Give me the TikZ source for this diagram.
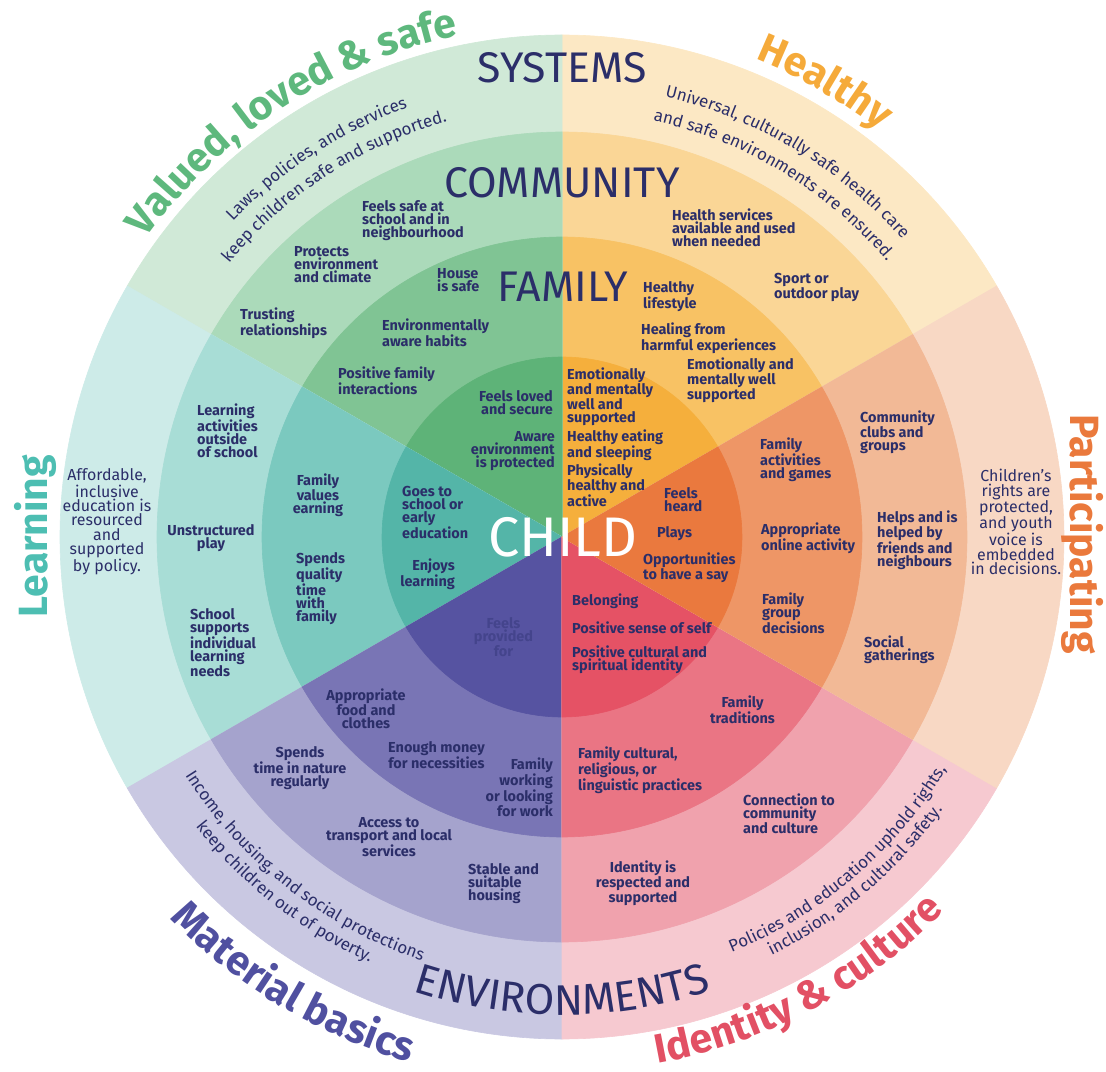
\documentclass[tikz,border=0pt]{standalone}
\usepackage{fontspec}
\setmainfont{Fira Sans}
\usepackage{tikz}
\usetikzlibrary{decorations.text}

\definecolor{navy}{RGB}{43,46,105}
\definecolor{faded}{RGB}{68,68,140}
% ring colours, one set per sector
\definecolor{gSys}{RGB}{208,233,215}
\definecolor{gCom}{RGB}{171,218,186}
\definecolor{gFam}{RGB}{128,196,148}
\definecolor{gChi}{RGB}{94,179,120}
\definecolor{ySys}{RGB}{252,232,196}
\definecolor{yCom}{RGB}{250,214,150}
\definecolor{yFam}{RGB}{248,194,100}
\definecolor{yChi}{RGB}{245,175,60}
\definecolor{oSys}{RGB}{248,216,196}
\definecolor{oCom}{RGB}{242,185,150}
\definecolor{oFam}{RGB}{238,150,102}
\definecolor{oChi}{RGB}{234,121,62}
\definecolor{rSys}{RGB}{246,201,208}
\definecolor{rCom}{RGB}{240,162,173}
\definecolor{rFam}{RGB}{234,117,132}
\definecolor{rChi}{RGB}{229,82,101}
\definecolor{pSys}{RGB}{201,200,226}
\definecolor{pCom}{RGB}{165,163,205}
\definecolor{pFam}{RGB}{121,117,181}
\definecolor{pChi}{RGB}{86,83,161}
\definecolor{tSys}{RGB}{205,235,232}
\definecolor{tCom}{RGB}{168,221,214}
\definecolor{tFam}{RGB}{123,201,191}
\definecolor{tChi}{RGB}{84,181,168}
% outer labels
\definecolor{gLbl}{RGB}{94,184,125}
\definecolor{yLbl}{RGB}{245,170,58}
\definecolor{oLbl}{RGB}{234,121,60}
\definecolor{rLbl}{RGB}{226,80,100}
\definecolor{pLbl}{RGB}{80,80,160}
\definecolor{tLbl}{RGB}{77,190,178}

\newcommand{\factfont}{\bfseries\fontsize{14.5}{13}\selectfont}
\newcommand{\sidefont}{\fontsize{16}{14.5}\selectfont}
\newcommand{\arcfont}{\fontsize{17}{17}\selectfont}
\newcommand{\ringfont}{\fontsize{43}{43}\selectfont}
\newcommand{\childfont}{\fontsize{56}{56}\selectfont}
\newcommand{\lblfont}{\bfseries\fontsize{41}{41}\selectfont}

\begin{document}
\begin{tikzpicture}[line join=bevel,
  wedge/.style={fill=#1,draw=#1,line width=.6bp},
  fact/.style={font=\factfont,text=navy,inner sep=0pt},
  factL/.style={fact,align=left,anchor=west},
  factR/.style={fact,align=right,anchor=east},
  factC/.style={fact,align=center},
  side/.style={font=\sidefont,text=navy,inner sep=0pt,align=center},
  ring/.style={font=\ringfont,text=navy,inner sep=0pt},
  outer/.style={font=\lblfont,inner sep=0pt},
]
\useasboundingbox (-562bp,-535bp) rectangle (544bp,537bp);
%% sectors, outside in
\path[wedge=ySys] (0,0) -- (30:502bp) arc[start angle=30,end angle=90,radius=502bp] -- cycle;
\path[wedge=yCom] (0,0) -- (30:405bp) arc[start angle=30,end angle=90,radius=405bp] -- cycle;
\path[wedge=yFam] (0,0) -- (30:300bp) arc[start angle=30,end angle=90,radius=300bp] -- cycle;
\path[wedge=yChi] (0,0) -- (30:180bp) arc[start angle=30,end angle=90,radius=180bp] -- cycle;
\path[wedge=gSys] (0,0) -- (90:502bp) arc[start angle=90,end angle=150,radius=502bp] -- cycle;
\path[wedge=gCom] (0,0) -- (90:405bp) arc[start angle=90,end angle=150,radius=405bp] -- cycle;
\path[wedge=gFam] (0,0) -- (90:300bp) arc[start angle=90,end angle=150,radius=300bp] -- cycle;
\path[wedge=gChi] (0,0) -- (90:180bp) arc[start angle=90,end angle=150,radius=180bp] -- cycle;
\path[wedge=tSys] (0,0) -- (150:502bp) arc[start angle=150,end angle=210,radius=502bp] -- cycle;
\path[wedge=tCom] (0,0) -- (150:405bp) arc[start angle=150,end angle=210,radius=405bp] -- cycle;
\path[wedge=tFam] (0,0) -- (150:300bp) arc[start angle=150,end angle=210,radius=300bp] -- cycle;
\path[wedge=tChi] (0,0) -- (150:180bp) arc[start angle=150,end angle=210,radius=180bp] -- cycle;
\path[wedge=pSys] (0,0) -- (210:502bp) arc[start angle=210,end angle=270,radius=502bp] -- cycle;
\path[wedge=pCom] (0,0) -- (210:405bp) arc[start angle=210,end angle=270,radius=405bp] -- cycle;
\path[wedge=pFam] (0,0) -- (210:300bp) arc[start angle=210,end angle=270,radius=300bp] -- cycle;
\path[wedge=pChi] (0,0) -- (210:180bp) arc[start angle=210,end angle=270,radius=180bp] -- cycle;
\path[wedge=rSys] (0,0) -- (270:502bp) arc[start angle=270,end angle=330,radius=502bp] -- cycle;
\path[wedge=rCom] (0,0) -- (270:405bp) arc[start angle=270,end angle=330,radius=405bp] -- cycle;
\path[wedge=rFam] (0,0) -- (270:300bp) arc[start angle=270,end angle=330,radius=300bp] -- cycle;
\path[wedge=rChi] (0,0) -- (270:180bp) arc[start angle=270,end angle=330,radius=180bp] -- cycle;
\path[wedge=oSys] (0,0) -- (-30:502bp) arc[start angle=-30,end angle=30,radius=502bp] -- cycle;
\path[wedge=oCom] (0,0) -- (-30:405bp) arc[start angle=-30,end angle=30,radius=405bp] -- cycle;
\path[wedge=oFam] (0,0) -- (-30:300bp) arc[start angle=-30,end angle=30,radius=300bp] -- cycle;
\path[wedge=oChi] (0,0) -- (-30:180bp) arc[start angle=-30,end angle=30,radius=180bp] -- cycle;
%% ring titles
\node (systems) at (0bp,469bp) [ring] {SYSTEMS};
\node (community) at (0bp,354bp) [ring] {COMMUNITY};
\node (family) at (1bp,250bp) [ring] {FAMILY};
\node (child) at (1bp,0bp) [ring,font=\childfont,text=white] {CHILD};
\path[decorate,decoration={text along path,text align=center,
  text={|\ringfont\color{navy}|ENVIRONMENTS}}]
  (235:478bp) arc[start angle=235,end angle=305,radius=478bp];
%% outer labels
\path[decorate,decoration={text along path,text align=center,
  text={|\lblfont\color{gLbl}|Valued, loved {\&} safe}}]
  (158:512bp) arc[start angle=158,end angle=88,radius=512bp];
\path[decorate,decoration={text along path,text align=center,
  text={|\lblfont\color{yLbl}|Healthy}}]
  (95:516bp) arc[start angle=95,end angle=25,radius=516bp];
\path[decorate,decoration={text along path,text align=center,
  text={|\lblfont\color{pLbl}|Material basics}}]
  (204:547bp) arc[start angle=204,end angle=274,radius=547bp];
\path[decorate,decoration={text along path,text align=center,
  text={|\lblfont\color{rLbl}|Identity {\&} culture}}]
  (263:535bp) arc[start angle=263,end angle=333,radius=535bp];
\node (learning) at (-527bp,1bp) [outer,rotate=90,text=tLbl] {Learning};
\node (participating) at (521bp,3bp) [outer,rotate=-90,text=oLbl] {Participating};
%% systems ring
\path[decorate,decoration={text along path,text align=center,
  text={|\arcfont\color{navy}|Laws, policies, and services}}]
  (163:456bp) arc[start angle=163,end angle=83,radius=456bp];
\path[decorate,decoration={text along path,text align=center,
  text={|\arcfont\color{navy}|keep children safe and supported.}}]
  (163:431bp) arc[start angle=163,end angle=83,radius=431bp];
\path[decorate,decoration={text along path,text align=center,
  text={|\arcfont\color{navy}|Universal, culturally safe health care}}]
  (99:452bp) arc[start angle=99,end angle=19,radius=452bp];
\path[decorate,decoration={text along path,text align=center,
  text={|\arcfont\color{navy}|and safe environments are ensured.}}]
  (99:426bp) arc[start angle=99,end angle=19,radius=426bp];
\path[decorate,decoration={text along path,text align=center,
  text={|\arcfont\color{navy}|Income, housing, and social protections}}]
  (192:446bp) arc[start angle=192,end angle=272,radius=446bp];
\path[decorate,decoration={text along path,text align=center,
  text={|\arcfont\color{navy}|keep children out of poverty.}}]
  (192:467bp) arc[start angle=192,end angle=272,radius=467bp];
\path[decorate,decoration={text along path,text align=center,
  text={|\arcfont\color{navy}|Policies and education uphold rights,}}]
  (270.5:449bp) arc[start angle=270.5,end angle=350.5,radius=449bp];
\path[decorate,decoration={text along path,text align=center,
  text={|\arcfont\color{navy}|inclusion, and cultural safety.}}]
  (270.5:468bp) arc[start angle=270.5,end angle=350.5,radius=468bp];
\node (learndesc) at (-455bp,15bp) [side] {Affordable,\\inclusive\\education is\\resourced\\and\\supported\\by policy.};
\node (partdesc) at (454bp,15bp) [side] {Children’s\\rights are\\protected,\\and youth\\voice is\\embedded\\in decisions.};
%% valued, loved and safe
\node (feelssafe) at (-200bp,316.5bp) [factL] {Feels safe at\\school and in\\neighbourhood};
\node (protects) at (-268bp,272bp) [factL] {Protects\\environment\\and climate};
\node (trusting) at (-322bp,213.5bp) [factL] {Trusting\\relationships};
\node (housesafe) at (-125bp,256.5bp) [factL] {House\\is safe};
\node (envhabits) at (-180bp,204bp) [factL] {Environmentally\\aware habits};
\node (posfamily) at (-224bp,156bp) [factL] {Positive family\\interactions};
\node (lovedsecure) at (-9bp,134bp) [factR] {Feels loved\\and secure};
\node (awareenv) at (-7bp,85.5bp) [factR] {Aware\\environment\\is protected};
%% healthy
\node (healthsvc) at (110bp,309bp) [factL] {Health services\\available and used\\when needed};
\node (sport) at (212bp,249.5bp) [factL] {Sport or\\outdoor play};
\node (lifestyle) at (81bp,240bp) [factL] {Healthy\\lifestyle};
\node (healing) at (79bp,198.5bp) [factL] {Healing from\\harmful experiences};
\node (emofamily) at (125bp,156.5bp) [factL] {Emotionally and\\mentally well\\supported};
\node (emochild) at (5bp,140bp) [factL] {Emotionally\\and mentally\\well and\\supported};
\node (eating) at (5bp,91.5bp) [factL] {Healthy eating\\and sleeping};
\node (physical) at (5bp,52bp) [factL] {Physically\\healthy and\\active};
%% participating
\node (clubs) at (298bp,104.5bp) [factL] {Community\\clubs and\\groups};
\node (activities) at (198bp,77bp) [factL] {Family\\activities\\and games};
\node (heard) at (102bp,37bp) [factL] {Feels\\heard};
\node (plays) at (95bp,3.5bp) [factL] {Plays};
\node (haveasay) at (81bp,-30.5bp) [factL] {Opportunities\\to have a say};
\node (online) at (199bp,-1.5bp) [factL] {Appropriate\\online activity};
\node (helps) at (315bp,-3bp) [factL] {Helps and is\\helped by\\friends and\\neighbours};
\node (groupdec) at (200bp,-76bp) [factL] {Family\\group\\decisions};
\node (social) at (302bp,-112.5bp) [factL] {Social\\gatherings};
%% identity and culture
\node (belonging) at (10bp,-64bp) [factL] {Belonging};
\node (senseself) at (10bp,-90.5bp) [factL] {Positive sense of self};
\node (spiritual) at (10bp,-123bp) [factL] {Positive cultural and\\spiritual identity};
\node (traditions) at (180.5bp,-173bp) [factC] {Family\\traditions};
\node (practices) at (16bp,-233bp) [factL] {Family cultural,\\religious, or\\linguistic practices};
\node (connection) at (181bp,-277bp) [factL] {Connection to\\community\\and culture};
\node (respected) at (81bp,-346bp) [factC] {Identity is\\respected and\\supported};
%% material basics
\node (provided) at (-58.5bp,-100.5bp) [factC,text=faded] {Feels\\provided\\for};
\node (foodclothes) at (-196bp,-172bp) [factC] {Appropriate\\food and\\clothes};
\node (money) at (-125.5bp,-218bp) [factC] {Enough money\\for necessities};
\node (working) at (-9bp,-250.5bp) [factR] {Family\\working\\or looking\\for work};
\node (nature) at (-262bp,-231bp) [factC] {Spends\\time in nature\\regularly};
\node (transport) at (-173bp,-300.5bp) [factC] {Access to\\transport and local\\services};
\node (housing) at (-94bp,-346.5bp) [factL] {Stable and\\suitable\\housing};
%% learning
\node (outside) at (-365bp,106.5bp) [factL] {Learning\\activities\\outside\\of school};
\node (unstructured) at (-351bp,-1.5bp) [factC] {Unstructured\\play};
\node (individual) at (-372bp,-105.5bp) [factL] {School\\supports\\individual\\learning\\needs};
\node (values) at (-244bp,41.5bp) [factC] {Family\\values\\earning};
\node (quality) at (-266bp,-51.5bp) [factL] {Spends\\quality\\time\\with\\family};
\node (goesschool) at (-160bp,24.5bp) [factL] {Goes to\\school or\\early\\education};
\node (enjoys) at (-107bp,-37.5bp) [factR] {Enjoys\\learning};
%
\end{tikzpicture}
\end{document}
